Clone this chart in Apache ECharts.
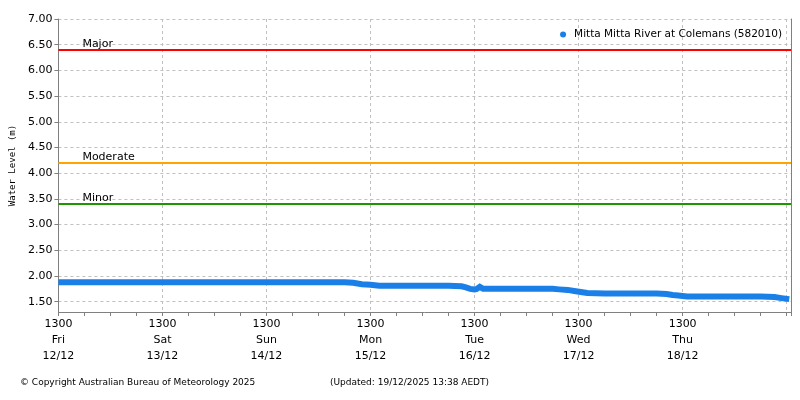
<!DOCTYPE html>
<html>
<head>
<meta charset="utf-8">
<script src="https://cdn.jsdelivr.net/npm/echarts@6/dist/echarts.min.js"></script>
<style>html,body{margin:0;padding:0;background:#fff}#c{width:800px;height:400px}</style>
</head>
<body>
<div id="c"></div>
<script>
// Hours since Fri 12/12 13:00 AEDT
const hours = [0, 6, 12, 18, 24, 30, 36, 42, 48, 54, 60, 66, 68, 70, 72, 74, 78, 84, 90, 93, 94, 95, 96, 96.5, 97.2, 98, 102, 108, 114, 115.5, 117.5, 119, 120.5, 122, 126, 132, 138, 140.3, 141.7, 143, 145, 150, 156, 162, 165.2, 166.8, 168.6];
const levels = [1.88, 1.88, 1.88, 1.88, 1.88, 1.88, 1.88, 1.88, 1.88, 1.88, 1.88, 1.88, 1.87, 1.84, 1.83, 1.81, 1.81, 1.81, 1.81, 1.80, 1.78, 1.75, 1.74, 1.75, 1.79, 1.75, 1.75, 1.75, 1.75, 1.74, 1.73, 1.71, 1.69, 1.67, 1.66, 1.66, 1.66, 1.65, 1.63, 1.62, 1.60, 1.60, 1.60, 1.60, 1.59, 1.57, 1.55];
const seriesName = 'Mitta Mitta River at Colemans (582010)';
const tickTimes = ['1300', '1300', '1300', '1300', '1300', '1300', '1300'];
const tickDays = ['Fri', 'Sat', 'Sun', 'Mon', 'Tue', 'Wed', 'Thu'];
const tickDates = ['12/12', '13/12', '14/12', '15/12', '16/12', '17/12', '18/12'];
const yTicks = [1.5, 2.0, 2.5, 3.0, 3.5, 4.0, 4.5, 5.0, 5.5, 6.0, 6.5, 7.0];
const thresholdNames = ['Major', 'Moderate', 'Minor'];
const thresholdValues = [6.40, 4.20, 3.40];
const thresholdColors = ['#ff0000', '#ffa500', '#1e9600'];

const FONT = 'DejaVu Sans';
const chart = echarts.init(document.getElementById('c'), null, {renderer: 'canvas'});
const option = {
  animation: false,
  backgroundColor: '#ffffff',
  textStyle: {fontFamily: FONT},
  title: [
    {text: '© Copyright Australian Bureau of Meteorology 2025', left: 15, top: 373,
     textStyle: {fontFamily: FONT, fontSize: 9, fontWeight: 'normal', color: '#000'}},
    {text: '(Updated: 19/12/2025 13:38 AEDT)', left: 325, top: 373,
     textStyle: {fontFamily: FONT, fontSize: 9, fontWeight: 'normal', color: '#000'}}
  ],
  legend: {
    right: 13, top: 24, icon: 'circle', itemWidth: 6, itemHeight: 6, itemGap: 4,
    textStyle: {fontFamily: FONT, fontSize: 10.5, color: '#000', padding: [0, 0, 0, 3]},
    data: [seriesName]
  },
  grid: {left: 58, right: 9, top: 19, bottom: 88, containLabel: false},
  xAxis: {
    type: 'value', min: 0, max: 169, interval: 24,
    axisLine: {lineStyle: {color: '#808080', width: 1}},
    axisTick: {length: 4, lineStyle: {color: '#808080'}},
    minorTick: {show: true, splitNumber: 4, length: 4, lineStyle: {color: '#808080'}},
    axisLabel: {
      color: '#000', fontFamily: FONT, fontSize: 11, lineHeight: 16, margin: 4,
      showMaxLabel: false,
      formatter: function (v) {
        const i = Math.round(v / 24);
        if (i < 0 || i >= tickTimes.length) return '';
        return tickTimes[i] + '\n' + tickDays[i] + '\n' + tickDates[i];
      }
    },
    splitLine: {show: true, lineStyle: {color: '#c0c0c0', type: [3, 3], width: 1}}
  },
  yAxis: [{
    type: 'value', min: 1.3, max: 7.0,
    name: 'Water Level (m)', nameLocation: 'middle', nameGap: 37, nameRotate: 90,
    nameTextStyle: {fontFamily: 'DejaVu Sans Mono', fontSize: 9, color: '#000'},
    axisLine: {show: true, lineStyle: {color: '#808080', width: 1}},
    axisTick: {show: true, length: 4, lineStyle: {color: '#808080'}, customValues: yTicks},
    axisLabel: {color: '#000', fontFamily: FONT, fontSize: 11, margin: 6, customValues: yTicks,
      formatter: v => v.toFixed(2)},
    splitLine: {show: true, lineStyle: {color: '#c0c0c0', type: [3, 3], width: 1}}
  }, {
    type: 'value', min: 1.3, max: 7.0, position: 'right',
    axisLine: {show: true, lineStyle: {color: '#808080', width: 1}},
    axisTick: {show: false}, axisLabel: {show: false}, splitLine: {show: false}
  }],
  series: [{
    name: seriesName,
    type: 'line',
    data: hours.map((h, i) => [h, levels[i]]),
    showSymbol: false,
    symbol: 'circle',
    color: '#1a80e8',
    lineStyle: {width: 6, color: '#1a80e8', cap: 'butt', join: 'miter'},
    z: 5,
    markLine: {
      silent: true, symbol: 'none', animation: false,
      data: thresholdValues.map((v, i) => ({
        yAxis: v, name: thresholdNames[i],
        lineStyle: {color: thresholdColors[i], width: 2, type: 'solid'},
        label: {show: true, position: 'insideStartTop', formatter: thresholdNames[i],
          color: '#000', fontFamily: FONT, fontSize: 11, distance: 0, padding: [0, 0, 0, 24]}
      }))
    }
  }]
};
chart.setOption(option);
</script>
</body>
</html>
